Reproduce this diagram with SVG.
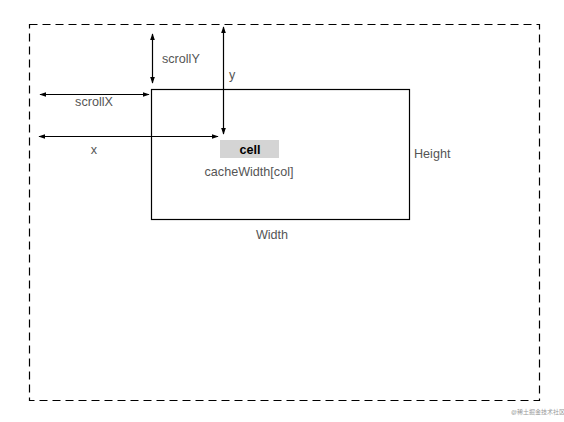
<svg xmlns="http://www.w3.org/2000/svg" width="564" height="422" viewBox="0 0 564 422">
<style>
.lbl{font-family:"Liberation Sans",Arial,sans-serif;font-size:12.6px;fill:#555}
.ar{stroke:#000;stroke-width:1.2;fill:none;marker-start:url(#ah);marker-end:url(#ah)}
</style>
<defs>
<marker id="ah" viewBox="0 0 10 10" refX="9" refY="5" markerWidth="7" markerHeight="7" markerUnits="userSpaceOnUse" orient="auto-start-reverse">
<path d="M0,1.5 L10,5 L0,8.5 z" fill="#000"/>
</marker>
</defs>
<rect width="564" height="422" fill="#fff"/>
<g id="viewport">
<rect x="29.5" y="24.5" width="510" height="376" fill="none" stroke="#000" stroke-width="1.2" stroke-dasharray="8,5"/>
</g>
<g id="table">
<rect x="151.5" y="89.5" width="258" height="130" fill="none" stroke="#000" stroke-width="1.2"/>
<text class="lbl" x="272" y="239" text-anchor="middle">Width</text>
<text class="lbl" x="414" y="158">Height</text>
</g>
<g id="cell">
<rect x="220" y="140" width="59" height="18" fill="#d4d4d4"/>
<text x="250" y="154" text-anchor="middle" font-family="Liberation Sans,Arial,sans-serif" font-size="12.6" font-weight="bold" fill="#000">cell</text>
<text class="lbl" x="249" y="176" text-anchor="middle">cacheWidth[col]</text>
</g>
<g id="connectors">
<line class="ar" x1="152.5" y1="34" x2="152.5" y2="83"/>
<line class="ar" x1="223.5" y1="27" x2="223.5" y2="134"/>
<line class="ar" x1="40" y1="94.5" x2="149" y2="94.5"/>
<line class="ar" x1="39" y1="136.5" x2="218" y2="136.5"/>
</g>
<g id="labels">
<text class="lbl" x="162" y="63">scrollY</text>
<text class="lbl" x="229" y="79">y</text>
<text class="lbl" x="94" y="106" text-anchor="middle">scrollX</text>
<text class="lbl" x="94" y="154" text-anchor="middle">x</text>
</g>
<text x="538" y="414" text-anchor="middle" font-family="Liberation Sans,'Noto Sans CJK SC',sans-serif" font-size="6" fill="#999">@稀土掘金技术社区</text>
</svg>
